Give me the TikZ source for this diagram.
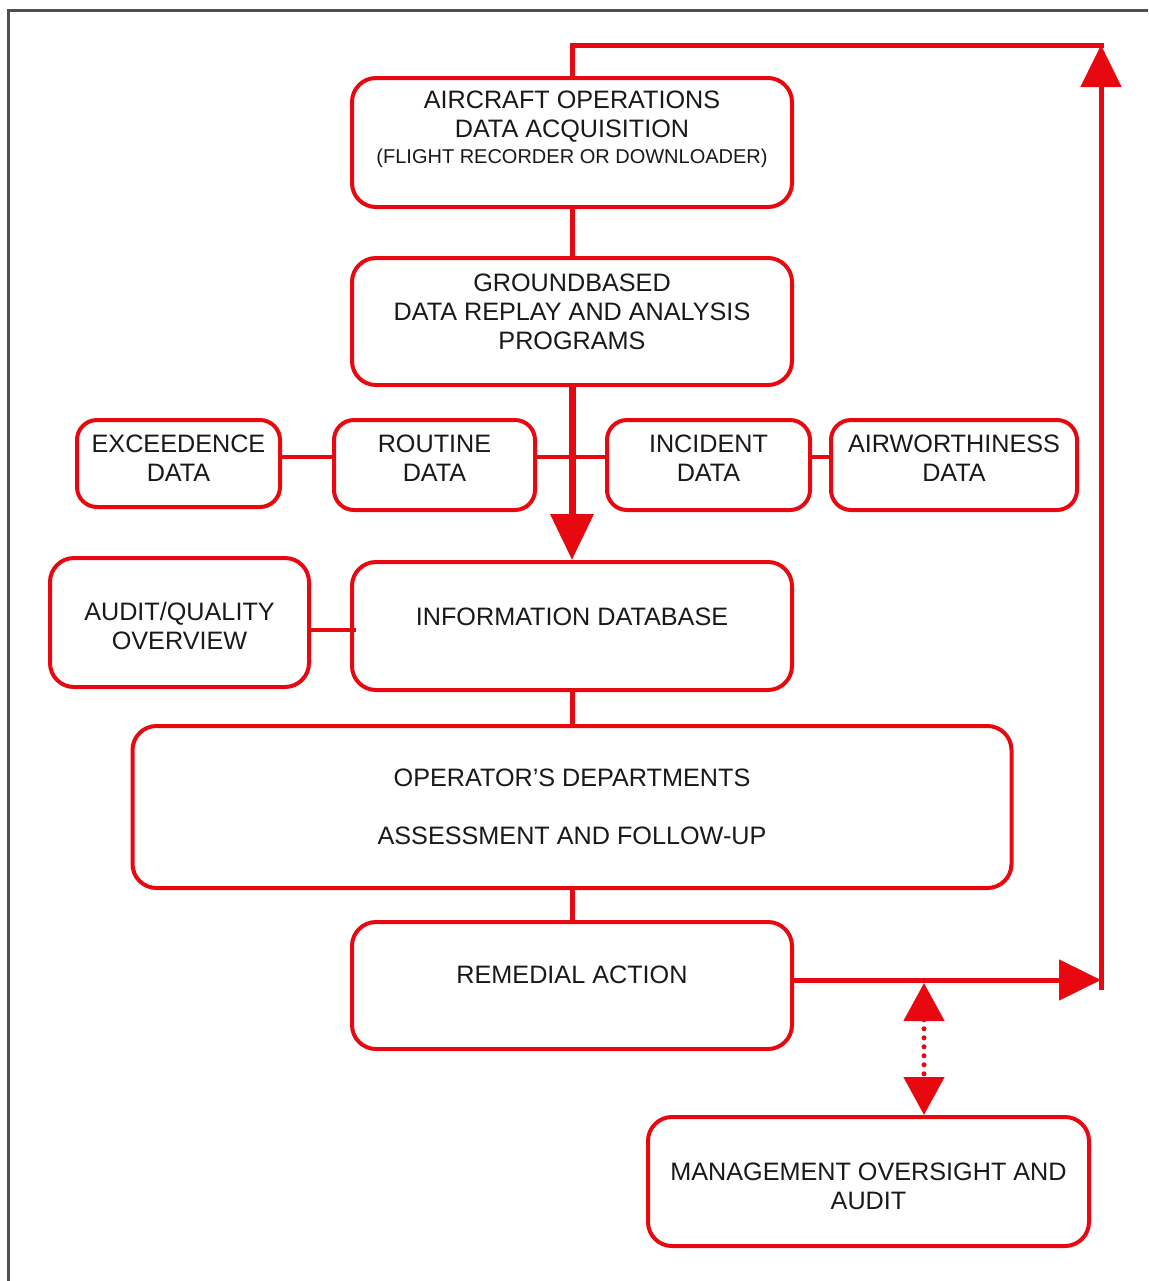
\documentclass[tikz,border=0pt]{standalone}
\usepackage{fontspec}
\setmainfont{Liberation Sans}
\usetikzlibrary{arrows.meta}
\definecolor{fdred}{RGB}{232,8,16}
\definecolor{frame}{RGB}{80,80,80}
\tikzset{
  box/.style={draw=fdred, line width=2pt, rounded corners=12pt, fill=white, inner sep=0pt},
  sbox/.style={box, rounded corners=10pt},
  txt/.style={align=center, inner sep=0pt, text=black!90, font=\fontsize{12.6}{14.5}\selectfont},
  conn/.style={draw=fdred, line width=2.5pt},
  thin conn/.style={draw=fdred, line width=2pt},
  bigarrow/.style={conn, -{Triangle[length=21pt,width=20pt]}},
  mainarrow/.style={draw=fdred, line width=3.5pt, -{Triangle[length=23pt,width=21pt]}},
  dotarrow/.style={draw=fdred, line width=2.5pt, line cap=round, dash pattern=on 0pt off 4.5pt,
    {Triangle[length=19pt,width=20pt]}-{Triangle[length=19pt,width=20pt]}}
}
\begin{document}
\begin{tikzpicture}[x=0.5pt,y=-0.5pt]
\useasboundingbox (0,0) rectangle (1148,1281);
% frame
\draw[frame, line width=1.5pt] (8,1281) -- (8,10) -- (1148,10);

% boxes
\node[box, minimum width=220pt, minimum height=64.5pt] (acq) at (572,142.5) {};
\node[box, minimum width=220pt, minimum height=63.5pt] (grd) at (572,321.5) {};
\node[sbox, minimum width=101.5pt, minimum height=43.5pt] (exc) at (178.5,463.5) {};
\node[sbox, minimum width=100.5pt, minimum height=45pt] (rou) at (434.5,465) {};
\node[sbox, minimum width=101.5pt, minimum height=45pt] (inc) at (708.5,465) {};
\node[sbox, minimum width=123pt, minimum height=45pt] (air) at (954,465) {};
\node[box, minimum width=129.5pt, minimum height=64.5pt] (aud) at (179.5,622.5) {};
\node[box, minimum width=220pt, minimum height=64pt] (db) at (572,626) {};
\node[box, minimum width=439.5pt, minimum height=81pt] (ops) at (572,807) {};
\node[box, minimum width=220pt, minimum height=63.5pt] (rem) at (572,985.5) {};
\node[box, minimum width=220.5pt, minimum height=64.5pt] (mgmt) at (868.5,1181.5) {};

% texts
\node[txt] (acqT) at (572,117) {AIRCRAFT OPERATIONS\\DATA ACQUISITION};
\node[txt, font=\fontsize{10}{12}\selectfont] (acqS) at (572,158) {(FLIGHT RECORDER OR DOWNLOADER)};
\node[txt] (grdT) at (572,312) {GROUNDBASED\\DATA REPLAY AND ANALYSIS\\PROGRAMS};
\node[txt] (excT) at (178.5,458) {EXCEEDENCE\\DATA};
\node[txt] (rouT) at (434.5,458) {ROUTINE\\DATA};
\node[txt] (incT) at (708.5,458) {INCIDENT\\DATA};
\node[txt] (airT) at (954,458) {AIRWORTHINESS\\DATA};
\node[txt] (audT) at (179.5,626) {AUDIT/QUALITY\\OVERVIEW};
\node[txt] (dbT) at (572,617) {INFORMATION DATABASE};
\node[txt] (opsT1) at (572,778) {OPERATOR'S DEPARTMENTS};
\node[txt] (opsT2) at (572,836) {ASSESSMENT AND FOLLOW-UP};
\node[txt] (remT) at (572,975) {REMEDIAL ACTION};
\node[txt] (mgmtT) at (868.5,1186) {MANAGEMENT OVERSIGHT AND\\AUDIT};

% helper coordinates
\coordinate (tr) at (1101,45);
\coordinate (br) at (1101,990);
\coordinate (rj) at (1101,980);
\coordinate (dl) at (0,457);
\coordinate (al) at (0,630);
\coordinate (dtop) at (924,983);

% connectors
\draw[conn] (acq.south) -- (grd.north);
\draw[conn] (db.south) -- (ops.north);
\draw[conn] (ops.south) -- (rem.north);
\draw[thin conn] (exc.east |- dl) -- (rou.west |- dl);
\draw[thin conn] (rou.east |- dl) -- (inc.west |- dl);
\draw[thin conn] (inc.east |- dl) -- (air.west |- dl);
\draw[thin conn] (aud.east |- al) -- ([xshift=3pt]db.west |- al);
\draw[mainarrow] (grd.south) -- (db.north);
\draw[conn, line cap=rect] (acq.north) |- (tr);
\draw[bigarrow] (br) -- (tr);
\draw[bigarrow] (rem.east |- rj) -- (rj);
\draw[dotarrow] (dtop) -- (dtop |- mgmt.north);
\end{tikzpicture}
\end{document}
